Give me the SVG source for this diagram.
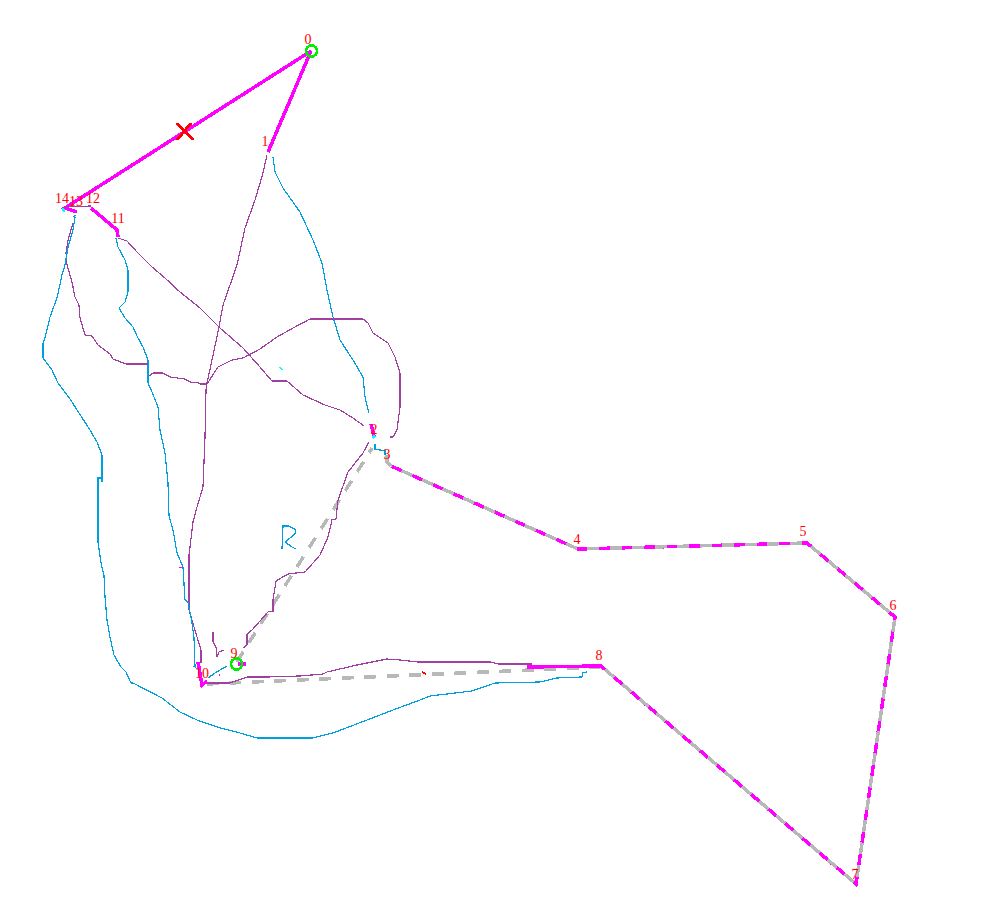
<svg xmlns="http://www.w3.org/2000/svg" width="997" height="920" viewBox="0 0 997 920">
<style>
text{font-family:"Liberation Serif","DejaVu Serif",serif;font-size:14px;fill:#f00;text-anchor:middle}
path,circle{fill:none;shape-rendering:crispEdges}
.p{stroke:#a040a0;stroke-width:1.200}
.b{stroke:#00a0e0;stroke-width:1.200}
.m{stroke:#f0f;stroke-width:3.500}
.g{stroke:#b8b8b8;stroke-width:3.500}
.d{stroke:#b8b8b8;stroke-width:3.500;stroke-dasharray:12 10.500}
.c{stroke:#0e0;stroke-width:2.800}
.r{stroke:#f00;stroke-width:2.800}
.y{stroke:#0ff;stroke-width:3}
</style>
<rect width="997" height="920" fill="#fff"/>
<g id="connectors">
<path class="d" d="M207 684L600 667"/>
<path class="d" d="M237 662L243 652L366 458L372 448"/>
<path class="p" d="M267 155L263 173L255 200L245 228L237 265L223 305L218 332L212 360L207 383L206 390L205 437L203 487L197 507L193 522L189 555L189 610L197 637L201 650L201 663"/>
<path class="b" d="M273 157L275 172L283 188L300 212L313 240L322 263L327 290L333 317L340 340L353 360L363 377L365 397L369 413"/>
<path class="p" d="M118 238L127 241L137 252L152 267L165 278L180 292L200 308L220 328L243 348L260 367L272 381L287 381L303 395L325 405L340 410L353 418L364 426"/>
<path class="b" d="M116 238L118 247L125 260L128 270L128 292L125 302L119 308L125 318L133 327L137 336L143 347L148 360L148 383L152 392L158 407L160 430L165 453L168 483L169 516L173 530L177 553L183 567L185 600L188 602L192 623L194 638L195 667L197 669M193 666L195 667"/>
<path class="m" d="M179 567L183 567" style="stroke-width:1"/>
<path class="p" d="M73 223L68 240L66 253L67 265L72 282L75 297L79 305L80 318L85 335L92 336L98 345L110 354L113 359L126 364L148 364M149 376L153 373L163 373L170 377L185 379L190 382L207 384M200 384L207 384L218 367L232 360L243 358L260 349L277 337L293 328L310 319L363 319L368 323L373 333L388 343L395 357L400 373L400 407L397 430L393 437L390 437"/>
<path class="b" d="M75 217L73 230L68 247L65 265L62 275L57 298L50 317L45 338L43 343L43 358L52 370L58 383L70 399L90 430L97 442L102 455L102 482M102 478L98 478L98 542L101 563L104 575L105 597L107 620L110 637L114 655L121 667L126 672L131 683L133 683L162 698L180 712L197 720L217 727L240 733L257 738L313 738L333 733L367 720L393 710L420 700L430 696L472 691L495 683L540 682L557 678L582 677L583 673L587 672"/>
<path class="p" d="M369 442L363 453L348 472L338 500L336 519L332 520L328 537L320 555L313 563L305 572L288 574L276 581L273 600L273 611L268 612L252 630L247 634L247 645L243 648"/>
<path class="p" d="M213 632L213 642L216 647L217 657L219 652L224 650"/>
<path class="p" d="M207 683L230 683L247 677L267 677L300 676L323 674L327 672L357 665L387 659L400 660L418 662L490 662L498 664L532 664"/>
<path class="p" d="M219 675L220 675"/>
<path class="b" d="M208 678L215 673L220 670L227 666"/>
<path class="b" d="M375 444L375 449L385 451L385 455"/>
<path class="b" d="M282 549L283 526L289 526L296 530L295 534L285 542L292 547L296 549"/>
<path class="b" d="M73 217L76 215"/>
<path class="y" d="M279 367L283 370" style="stroke-width:1"/>
<path class="m" d="M311 51L65 208L77 212M311 51L268 152"/>
<path class="m" d="M91 208L117 230L118 237"/>
<path class="p" d="M65 207L91 206"/>
<path class="m" d="M371 424L374 436"/>
<path class="m" d="M391 466L578 549L807 543L895 617L856 884L601 666L527 667"/>
<path class="d" d="M391 466L578 549L807 543L895 617L856 884L601 666" stroke-dashoffset="11"/>
<path class="g" d="M387 455L387 462L391 466"/>
<path class="m" d="M198 662L202 685L207 681M238 664L246 664"/>
<path class="r" d="M422 672L426 674" style="stroke-width:2"/>
<path class="y" d="M62 209L65 211M373 436L375 438"/>
</g>
<g id="x"><path class="r" d="M177 123L193 140M191 123L177 140"/></g>
<g id="n0"><circle class="c" cx="311.500" cy="51" r="5.500"/><text x="308" y="44">0</text></g>
<g id="n1"><text x="265" y="146">1</text></g>
<g id="n2"><text x="374" y="434">2</text></g>
<g id="n3"><text x="387" y="459">3</text></g>
<g id="n4"><text x="577" y="544">4</text></g>
<g id="n5"><text x="803" y="536">5</text></g>
<g id="n6"><text x="893" y="610">6</text></g>
<g id="n7"><text x="855" y="879">7</text></g>
<g id="n8"><text x="599" y="660">8</text></g>
<g id="n9"><circle class="c" cx="236.500" cy="664" r="5.500"/><text x="234" y="658">9</text></g>
<g id="n10"><text x="202" y="678">10</text></g>
<g id="n11"><text x="118" y="223">11</text></g>
<g id="n12"><text x="93" y="203">12</text></g>
<g id="n13"><text x="76" y="206">13</text></g>
<g id="n14"><text x="62" y="203">14</text></g>
</svg>
